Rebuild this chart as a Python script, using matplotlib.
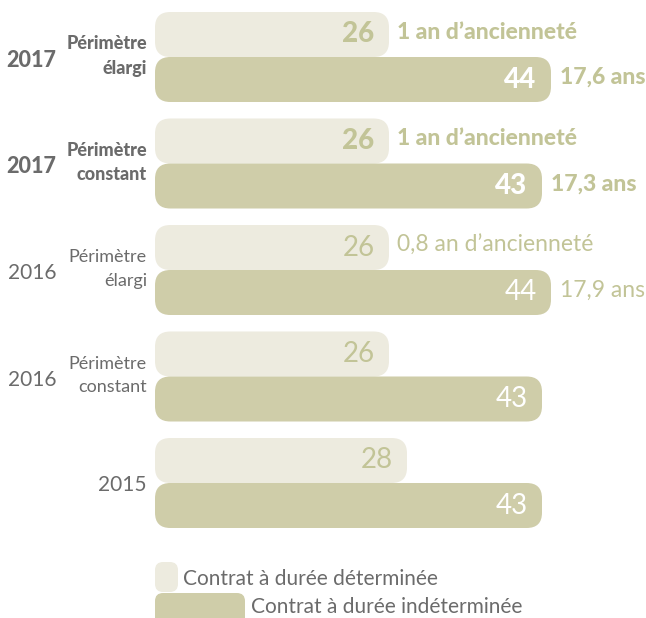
import matplotlib
matplotlib.use("Agg")
import matplotlib.pyplot as plt
from matplotlib.patches import FancyBboxPatch

# data
years = ["2017", "2017", "2016", "2016", "2015"]
perimeters = ["Périmètre\nélargi", "Périmètre\nconstant", "Périmètre\nélargi", "Périmètre\nconstant", ""]
cdd = [26, 26, 26, 26, 28]
cdi = [44, 43, 44, 43, 43]
cdd_notes = ["1 an d’ancienneté", "1 an d’ancienneté", "0,8 an d’ancienneté", "", ""]
cdi_notes = ["17,6 ans", "17,3 ans", "17,9 ans", "", ""]
highlight = [True, True, False, False, False]
legend_labels = ["Contrat à durée déterminée", "Contrat à durée indéterminée"]

LIGHT = "#edebdf"
DARK = "#cfcda9"
VALUE_TXT = "#c2c497"
GREY = "#6b6b6b"
FONT = "Lato"

W, H = 646, 618
PX_X = 9.0      # pixels per unit of value
PX_Y = 106.5    # pixels per group
X0, Y0 = 155, 57
BAR_H = 45 / PX_Y
ASPECT = PX_X / PX_Y


def rounded_bar(ax, x, y, w, h, color, r=1.7):
    p = FancyBboxPatch((x, y), w, h,
                       boxstyle=f"round,pad=0,rounding_size={r}",
                       mutation_aspect=ASPECT,
                       facecolor=color, edgecolor="none", zorder=2)
    ax.add_patch(p)


def main():
    fig = plt.figure(figsize=(W / 100, H / 100), dpi=100)
    ax = fig.add_axes([0, 0, 1, 1])
    ax.set_xlim(-X0 / PX_X, (W - X0) / PX_X)
    ax.set_ylim((H - Y0) / PX_Y, -Y0 / PX_Y)
    ax.axis("off")

    for i in range(len(years)):
        wt = 900 if highlight[i] else "normal"
        # light (CDD) bar above, dark (CDI) bar below the group line
        rounded_bar(ax, 0, i - BAR_H, cdd[i], BAR_H, LIGHT)
        rounded_bar(ax, 0, i, cdi[i], BAR_H, DARK)

        ax.text(cdd[i] - 1.6, i - BAR_H / 2, str(cdd[i]), ha="right", va="center",
                fontsize=20, fontweight=wt, color=VALUE_TXT, family=FONT, zorder=3)
        ax.text(cdi[i] - 1.6, i + BAR_H / 2, str(cdi[i]), ha="right", va="center",
                fontsize=20, fontweight=wt, color="white", family=FONT, zorder=3)

        if cdd_notes[i]:
            ax.text(cdd[i] + 0.9, i - BAR_H / 2 - 0.02, cdd_notes[i], ha="left", va="center",
                    fontsize=16.5, fontweight=wt, color=VALUE_TXT, family=FONT)
        if cdi_notes[i]:
            ax.text(cdi[i] + 1.0, i + BAR_H / 2 - 0.02, cdi_notes[i], ha="left", va="center",
                    fontsize=16.5, fontweight=wt, color=VALUE_TXT, family=FONT)

        # row labels
        ysz = 15.5 if highlight[i] else 15
        if perimeters[i]:
            ax.text(-11.0, i + 0.03, years[i], ha="right", va="center",
                    fontsize=ysz, fontweight=wt, color=GREY, family=FONT)
            ax.text(-0.9, i - 0.01, perimeters[i], ha="right", va="center", linespacing=1.55,
                    fontsize=13, fontweight=wt, color=GREY, family=FONT)
        else:
            ax.text(-0.9, i + 0.02, years[i], ha="right", va="center",
                    fontsize=ysz, fontweight=wt, color=GREY, family=FONT)

    # legend, drawn by hand to keep the staggered layout
    ly = (562 - Y0) / PX_Y
    rounded_bar(ax, 0, ly, 23 / PX_X, 30 / PX_Y, LIGHT, r=0.9)
    rounded_bar(ax, 0, ly + 31 / PX_Y, 90 / PX_X, 40 / PX_Y, DARK, r=0.9)
    ax.text(28 / PX_X, ly + 17 / PX_Y, legend_labels[0], ha="left", va="center",
            fontsize=15, color=GREY, family=FONT)
    ax.text(96 / PX_X, ly + 45 / PX_Y, legend_labels[1], ha="left", va="center",
            fontsize=15, color=GREY, family=FONT)

    fig.savefig("out.png", dpi=100)
    plt.close(fig)


if __name__ == "__main__":
    main()
